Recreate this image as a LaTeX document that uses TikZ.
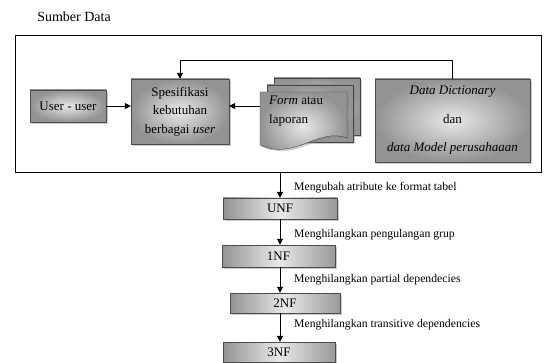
\documentclass[tikz,border=0pt]{standalone}
\usepackage{fontspec}
\setmainfont{Liberation Serif}
\usetikzlibrary{shadows,arrows.meta,calc}
\newcommand{\boxfont}{\fontsize{13}{18.5}\selectfont}
\newcommand{\lblfont}{\fontsize{11.7}{14}\selectfont}
\newcommand{\ttlfont}{\fontsize{14}{16}\selectfont}
\tikzset{
  shadowed/.style={drop shadow={shadow xshift=1.8pt,shadow yshift=-1.8pt,opacity=0.4}},
  gbox/.style={shadowed, draw=gray!60!black, line width=0.4pt, shade,
    inner color=gray!18, outer color=gray!85, font=\boxfont, align=center, inner sep=0pt},
  nfbox/.style={shadowed, draw=gray!60!black, line width=0.4pt, shade,
    left color=gray!85, right color=gray!80, middle color=gray!18,
    font=\boxfont, align=center, inner sep=0pt},
  sheet/.style={shadowed, draw=gray!55!black, line width=0.4pt, shade,
    inner color=gray!18, outer color=gray!85},
  arr/.style={line width=0.8pt, -{Triangle[length=6pt,width=6pt]}},
  lbl/.style={font=\lblfont, anchor=west, inner sep=0pt},
}
\begin{document}
\begin{tikzpicture}[x=1pt,y=-1pt]
\useasboundingbox (0,0) rectangle (545,363);
\fill[white] (0,0) rectangle (545,363);

\node[font=\ttlfont] (title) at (74,17) {Sumber Data};
\node[draw, line width=0.8pt, minimum width=526pt, minimum height=137pt, inner sep=0pt] (outer) at (278,103.5) {};

\node[gbox, minimum width=76pt, minimum height=32pt] (user) at (68,106) {User - user};
\node[gbox, minimum width=98pt, minimum height=65pt] (spec) at (180,111.5) {Spesifikasi\\kebutuhan\\berbagai \textit{user}};

% form / laporan stack
\path[sheet] (274,78) rectangle (360,135);
\path[sheet] (267,85) rectangle (353,142);
\path[sheet] (260,92) -- (347,92) -- (347,138) .. controls (318,127) and (295,161) .. (260,145) -- cycle;
\node[minimum width=87pt, minimum height=53pt, inner sep=0pt] (form) at (303.5,118.5) {};
\node[font=\boxfont, align=left, anchor=west, inner sep=0pt] (formtxt) at (269,111) {\textit{Form} atau\\laporan};

\node[gbox, minimum width=155pt, minimum height=83pt] (dd) at (452.5,120.5)
  {\textit{Data Dictionary}\\[10pt]dan\\[10pt]\textit{data Model perusahaaan}};

\coordinate (fb) at (0,60);
\draw[arr] (user.east) -- (user.east -| spec.west);
\draw[arr] (form.west |- user.east) -- (spec.east |- user.east);
\draw[arr] (dd.north) -- (dd.north |- fb) -| (spec.north);

% normalisation chain
\node[nfbox, minimum width=114pt, minimum height=21pt] (unf) at (280,208.5) {UNF};
\node[nfbox, minimum width=113pt, minimum height=22pt] (nf1) at (278.5,256) {1NF};
\node[nfbox, minimum width=110pt, minimum height=20pt] (nf2) at (285,303) {2NF};
\node[nfbox, minimum width=112pt, minimum height=20pt] (nf3) at (279,352) {3NF};

\draw[arr] (unf.north |- outer.south) -- (unf.north);
\draw[arr] (unf.south) -- (unf.south |- nf1.north);
\draw[arr] (unf.south |- nf1.south) -- (unf.south |- nf2.north);
\draw[arr] (unf.south |- nf2.south) -- (unf.south |- nf3.north);

\node[lbl] (l1) at (294,188) {Mengubah atribute ke format tabel};
\node[lbl] (l2) at (294,235) {Menghilangkan pengulangan grup};
\node[lbl] (l3) at (294,280) {Menghilangkan partial dependecies};
\node[lbl] (l4) at (294,325) {Menghilangkan transitive dependencies};
\end{tikzpicture}
\end{document}
